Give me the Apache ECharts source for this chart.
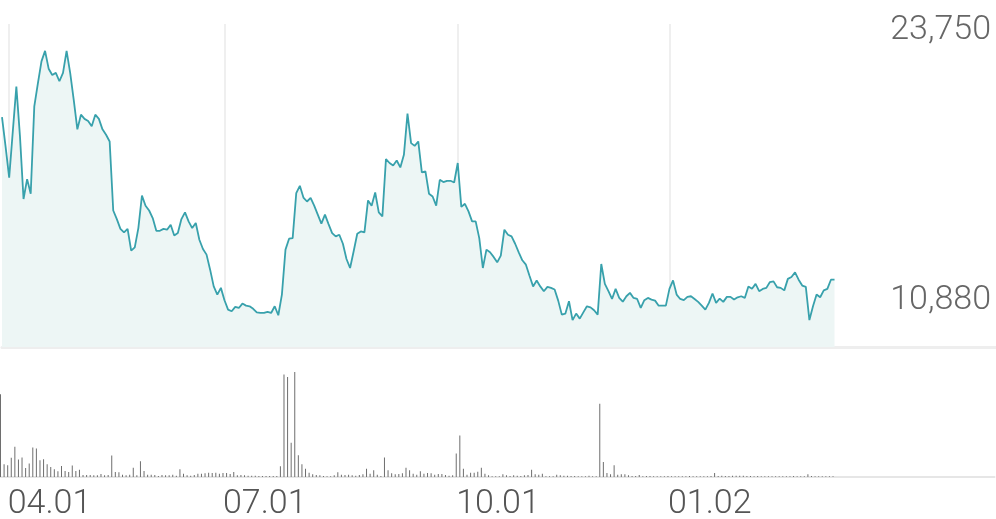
<!DOCTYPE html>
<html><head><meta charset="utf-8">
<script src="https://cdn.jsdelivr.net/npm/echarts@6/dist/echarts.min.js"></script>
<style>html,body{margin:0;padding:0;background:#fff}#c{width:996px;height:519px}</style>
</head><body><div id="c"></div>
<script>
// number of trading-day slots on the x axis (data fills the first part)
const slotCount = 278;
// first trading day of each quarter month -> label
const tickLabels = {2: '04.01', 62: '07.01', 127: '10.01', 186: '01.02'};

// daily closing prices (KRW)
const prices = [
20580,19170,17690,19880,22050,19690,16670,17620,16920,21100,
22200,23250,23750,22900,22600,22700,22300,22700,23750,22700,
21400,20000,20700,20500,20400,20150,20700,20500,20000,19740,
19420,16120,15710,15240,15070,15240,14200,14360,15280,16830,
16350,16120,15760,15150,15150,15240,15200,15440,14920,15040,
15710,16030,15600,15280,15520,14720,14280,14010,13290,12490,
12100,12420,11830,11380,11300,11510,11460,11670,11570,11540,
11420,11250,11220,11220,11270,11220,11540,11110,12100,14250,
14770,14800,16950,17300,16740,16550,16720,16350,15920,15490,
15920,15470,15040,14880,14960,14530,13800,13370,14170,15010,
15120,15070,16600,16350,16980,16030,15840,18580,18390,18270,
18510,18180,18780,20750,19340,19210,19420,17940,17990,16920,
16790,16350,17590,17480,17540,17540,17460,18390,16290,16440,
16080,15600,15600,14800,13370,14250,14120,13900,13640,13960,
15200,14960,14880,14530,14120,13740,13530,13000,12490,12770,
12490,12260,12470,12420,12340,11810,11140,11190,11780,10880,
11190,10950,11250,11540,11490,11350,11140,13560,12610,12260,
11890,12370,11940,11760,12020,12180,11940,11890,11460,11830,
11940,11860,11810,11570,11570,11570,12370,12780,12100,11890,
11830,11990,12020,11890,11750,11570,11380,11700,12150,11700,
11910,11750,11990,11990,11860,11970,12020,11940,12490,12380,
12610,12260,12370,12420,12700,12730,12450,12420,12300,12850,
12940,13160,12810,12530,12470,10880,11540,12100,11970,12300,
12370,12810,12810
];

// daily volume (thousand shares)
const volumes = [
823,127,117,190,300,173,193,90,133,293,
283,167,177,127,100,77,57,110,60,50,
113,60,73,20,20,20,17,17,30,17,
20,213,50,47,23,17,23,93,17,157,
60,23,23,20,10,20,17,17,23,13,
77,33,17,13,20,33,33,37,43,40,
43,33,40,40,30,50,17,20,17,13,
13,13,10,10,10,10,10,10,107,1017,
993,340,1043,217,127,83,43,27,20,17,
10,7,7,17,47,23,20,23,17,13,
20,27,83,33,67,23,10,193,67,37,
27,30,37,93,67,33,23,57,33,40,
37,23,30,30,20,13,17,233,413,83,
23,43,43,53,93,33,17,7,7,7,
27,17,10,17,13,10,17,20,73,27,
23,33,7,7,7,23,17,13,13,10,
10,7,7,7,13,7,7,727,150,40,
27,117,23,27,27,17,10,10,20,7,
10,10,7,7,7,7,10,8,7,7,
7,7,10,7,7,7,7,7,10,40,
10,13,10,10,13,13,13,13,10,10,
7,10,7,7,7,7,7,7,7,7,
7,10,7,7,7,27,10,7,7,7,
7,7,7
];

const categories = Array.from({length: slotCount}, (_, i) => String(i));
const pMax = Math.max(...prices), pMin = Math.min(...prices);
const pad = (pMax - pMin) * 0.1;
const isTick = (i) => tickLabels[i] !== undefined;
const font = {fontFamily: 'Roboto', fontWeight: 300};

const chart = echarts.init(document.getElementById('c'), null, {renderer: 'canvas'});
chart.setOption({
  animation: false,
  backgroundColor: '#ffffff',
  grid: [
    {left: 2, right: 0, top: 24, bottom: 172, containLabel: false, outerBoundsMode: 'none'},
    {left: 0.5, right: 1.5, top: 372, bottom: 42, containLabel: false, outerBoundsMode: 'none'}
  ],
  xAxis: [
    {
      type: 'category', gridIndex: 0, data: categories, boundaryGap: false,
      axisLine: {show: true, lineStyle: {color: '#eeeeee', width: 3}},
      axisTick: {show: false}, axisLabel: {show: false},
      splitLine: {show: true, interval: (i) => isTick(i), lineStyle: {color: '#efefef', width: 2}}
    },
    {
      type: 'category', gridIndex: 1, data: categories, boundaryGap: false,
      axisLine: {show: true, lineStyle: {color: '#e6e6e6', width: 2}},
      axisTick: {show: false},
      splitLine: {show: false},
      axisLabel: Object.assign({
        interval: (i) => isTick(i),
        formatter: (v, i) => tickLabels[i] || '',
        align: 'left', fontSize: 34, color: '#555555', margin: 10
      }, font)
    }
  ],
  yAxis: [
    {
      type: 'value', gridIndex: 0, position: 'right',
      min: pMin - pad, max: pMax + pad,
      axisLine: {show: false}, axisTick: {show: false}, splitLine: {show: false},
      axisLabel: Object.assign({
        inside: true, customValues: [pMin, pMax],
        formatter: (v) => Math.round(v).toLocaleString('en-US'),
        fontSize: 34, color: '#666666', verticalAlign: 'bottom',
        lineHeight: 40, margin: 5
      }, font)
    },
    {
      type: 'value', gridIndex: 1, min: 0, max: 'dataMax',
      axisLine: {show: false}, axisTick: {show: false},
      axisLabel: {show: false}, splitLine: {show: false}
    }
  ],
  series: [
    {
      type: 'line', xAxisIndex: 0, yAxisIndex: 0, data: prices,
      showSymbol: false, symbol: 'none',
      lineStyle: {color: '#38a1ac', width: 1.8},
      areaStyle: {color: '#edf6f5', opacity: 1, origin: 'start'}
    },
    {
      type: 'bar', xAxisIndex: 1, yAxisIndex: 1, data: volumes,
      barWidth: 1, itemStyle: {color: '#6e6e6e'}
    }
  ]
});
</script></body></html>
